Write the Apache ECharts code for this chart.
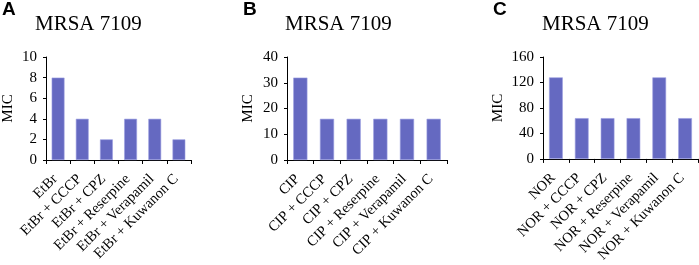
<!DOCTYPE html>
<html><head><meta charset="utf-8">
<script src="https://cdn.jsdelivr.net/npm/echarts@6/dist/echarts.min.js"></script>
<style>html,body{margin:0;padding:0;background:#fff}#c{width:699px;height:265px}</style>
</head><body><div id="c"></div>
<script>
const categoriesA = ['EtBr','EtBr + CCCP','EtBr + CPZ','EtBr + Reserpine','EtBr + Verapamil','EtBr + Kuwanon C'];
const categoriesB = ['CIP','CIP + CCCP','CIP + CPZ','CIP + Reserpine','CIP + Verapamil','CIP + Kuwanon C'];
const categoriesC = ['NOR','NOR + CCCP','NOR + CPZ','NOR + Reserpine','NOR + Verapamil','NOR + Kuwanon C'];
const valuesA = [8, 4, 2, 4, 4, 2];
const valuesB = [32, 16, 16, 16, 16, 16];
const valuesC = [128, 64, 64, 64, 128, 64];
const panelLetters = ['A', 'B', 'C'];
const panelTitle = 'MRSA 7109';
const yMax = [10, 40, 160];
const yStep = [2, 10, 40];

const serif = 'Liberation Serif';
const grids = [
  {left: 44, top: 57, width: 147, height: 103},
  {left: 287, top: 57, width: 160, height: 103},
  {left: 543, top: 57, width: 155, height: 106}
];
const nameGaps = [30, 31, 37];
const cats = [categoriesA, categoriesB, categoriesC];
const vals = [valuesA, valuesB, valuesC];
const letterPos = [2, 243, 493];
const titlePos = [35, 285, 542];

const axisLine = {show: true, lineStyle: {color: '#000', width: 1}};
const option = {
  animation: false,
  backgroundColor: '#fff',
  title: [].concat(
    panelLetters.map((t, i) => ({text: t, left: letterPos[i], top: 0, padding: 0,
      textStyle: {fontFamily: 'Liberation Sans', fontWeight: 'bold', fontSize: 19, color: '#000'}})),
    panelLetters.map((t, i) => ({text: panelTitle, left: titlePos[i], top: 14, padding: 0,
      textStyle: {fontFamily: serif, fontWeight: 'normal', fontSize: 21, color: '#000'}}))
  ),
  grid: grids.map(g => Object.assign({containLabel: false}, g)),
  xAxis: cats.map((c, i) => ({
    type: 'category', gridIndex: i, data: c,
    axisLine: axisLine,
    axisTick: {show: true, length: 4, lineStyle: {color: '#000'}},
    axisLabel: {rotate: 45, margin: 14, padding: [0, 4, 0, 0], fontFamily: serif, fontSize: 14.5, color: '#000', interval: 0}
  })),
  yAxis: vals.map((v, i) => ({
    type: 'value', gridIndex: i, min: 0, max: yMax[i], interval: yStep[i],
    name: 'MIC', nameLocation: 'middle', nameGap: nameGaps[i], nameRotate: 90,
    nameTextStyle: {fontFamily: serif, fontSize: 15, color: '#000'},
    axisLine: axisLine,
    axisTick: {show: true, length: 3, lineStyle: {color: '#000'}},
    splitLine: {show: false},
    axisLabel: {margin: 9, fontFamily: serif, fontSize: 15, color: '#000'}
  })),
  series: vals.map((v, i) => ({
    type: 'bar', xAxisIndex: i, yAxisIndex: i, data: v, barWidth: '53%',
    itemStyle: {color: '#6569c1', borderColor: '#9a9de0', borderWidth: 0.6}
  }))
};
echarts.init(document.getElementById('c')).setOption(option);
</script></body></html>
